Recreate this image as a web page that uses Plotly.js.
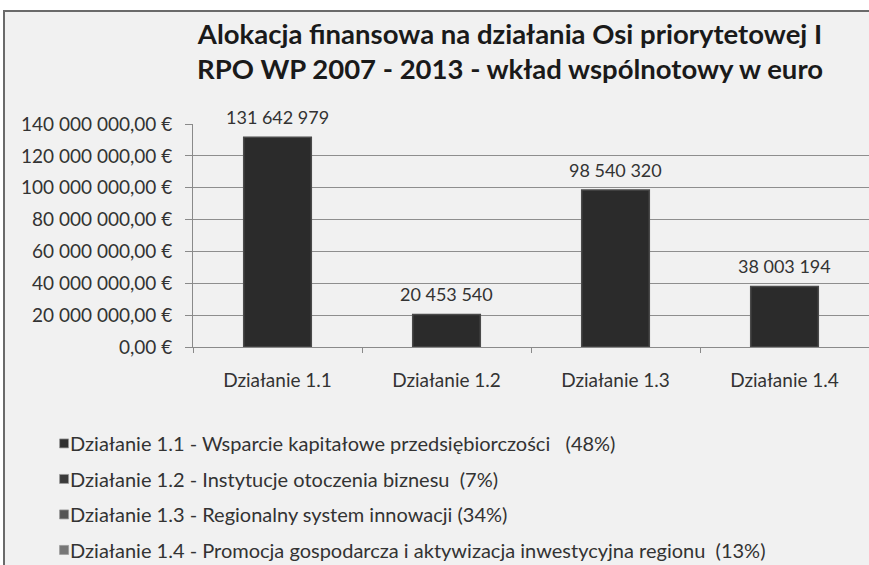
<!DOCTYPE html>
<html>
<head>
<meta charset="utf-8">
<script src="https://cdn.plot.ly/plotly-3.0.1.min.js"></script>
<style>
  html, body { margin: 0; padding: 0; background: #ffffff; width: 869px; height: 565px; overflow: hidden; }
  #frame { position: absolute; left: 3px; top: 10px; width: 864px; height: 553px;
           border-top: 2px solid #6a6a6a; border-left: 2px solid #6a6a6a; background: #f1f1f1; overflow: hidden; }
  #chart { position: absolute; left: 0; top: 0; width: 864px; height: 553px; }
</style>
</head>
<body>
<div id="frame"><div id="chart"></div></div>
<script>
const categories = ["Działanie 1.1", "Działanie 1.2", "Działanie 1.3", "Działanie 1.4"];
const values = [131642979, 20453540, 98540320, 38003194];
const legendNames = [
  "Działanie 1.1 - Wsparcie kapitałowe przedsiębiorczości\u00a0\u00a0\u00a0(48%)",
  "Działanie 1.2 - Instytucje otoczenia biznesu\u00a0\u00a0(7%)",
  "Działanie 1.3 - Regionalny system innowacji (34%)",
  "Działanie 1.4 - Promocja gospodarcza i aktywizacja inwestycyjna regionu\u00a0\u00a0(13%)"
];
const legendColors = ["#2e2e2e", "#3a3a3a", "#555555", "#777777"];
const yTicks = [0, 20000000, 40000000, 60000000, 80000000, 100000000, 120000000, 140000000];
const yTickLabels = ["0,00 €", "20 000 000,00 €", "40 000 000,00 €", "60 000 000,00 €",
                     "80 000 000,00 €", "100 000 000,00 €", "120 000 000,00 €", "140 000 000,00 €"];

const FONT = "Lato, 'Open Sans', sans-serif";

function fmtSpace(v) {
  return String(Math.round(v)).replace(/\B(?=(\d{3})+(?!\d))/g, " ");
}

const traces = categories.map((c, i) => ({
  type: "bar",
  x: [c],
  y: [values[i]],
  name: legendNames[i],
  legendgroup: "g" + i,
  width: 0.4,
  marker: { color: "#2b2b2b", line: { color: "#4a4a4a", width: 1.5 } },
  hoverinfo: "skip"
}));

const annotations = categories.map((c, i) => ({
  x: c, y: values[i], xref: "x", yref: "y",
  text: fmtSpace(values[i]),
  showarrow: false,
  xanchor: "center", yanchor: "middle",
  yshift: 20,
  font: { family: FONT, size: 18, color: "#333333" }
}));

const layout = {
  width: 864, height: 553,
  paper_bgcolor: "rgba(0,0,0,0)",
  plot_bgcolor: "rgba(0,0,0,0)",
  margin: { l: 188, r: 0, t: 112, b: 218, autoexpand: false },
  barmode: "overlay",
  font: { family: FONT, color: "#333333" },
  title: {
    text: "Alokacja finansowa na działania Osi priorytetowej I<br>RPO WP 2007 - 2013 - wkład wspólnotowy w euro",
    font: { family: FONT, size: 27.5, color: "#1a1a1a", weight: "bold" },
    x: 0.5845, xanchor: "center", y: 0.943, yanchor: "top"
  },
  annotations: annotations,
  xaxis: {
    type: "category",
    categoryarray: categories,
    showline: true, linecolor: "#8a8a8a", linewidth: 1,
    ticks: "outside", tickson: "boundaries", ticklen: 5, tickcolor: "#8a8a8a",
    ticklabelstandoff: 16,
    tickfont: { family: FONT, size: 19, color: "#333333" },
    showgrid: false, zeroline: false
  },
  yaxis: {
    range: [0, 140000000],
    tickvals: yTicks,
    ticktext: yTickLabels,
    showline: true, linecolor: "#8a8a8a", linewidth: 1,
    ticks: "outside", ticklen: 7, tickcolor: "#8a8a8a",
    ticklabelstandoff: 9,
    showgrid: true, gridcolor: "#8e8e8e", gridwidth: 1,
    zeroline: false,
    tickfont: { family: FONT, size: 19, color: "#333333" }
  },
  showlegend: true,
  legend: {
    orientation: "v",
    x: -0.241, xanchor: "left",
    y: -0.345, yanchor: "top",
    traceorder: "grouped",
    tracegroupgap: 6.5,
    font: { family: FONT, size: 20, color: "#333333" },
    bgcolor: "rgba(0,0,0,0)"
  }
};

Plotly.newPlot("chart", traces, layout, { staticPlot: true, displayModeBar: false }).then(() => {
  const pts = document.querySelectorAll(".legend .traces .legendpoints path");
  pts.forEach((p, i) => {
    if (legendColors[i]) p.style.fill = legendColors[i];
    p.style.stroke = "#9a9a9a";
    p.style.strokeWidth = "1px";
    p.setAttribute("transform", "translate(34,0) scale(0.75)");
  });
});
</script>
</body>
</html>
